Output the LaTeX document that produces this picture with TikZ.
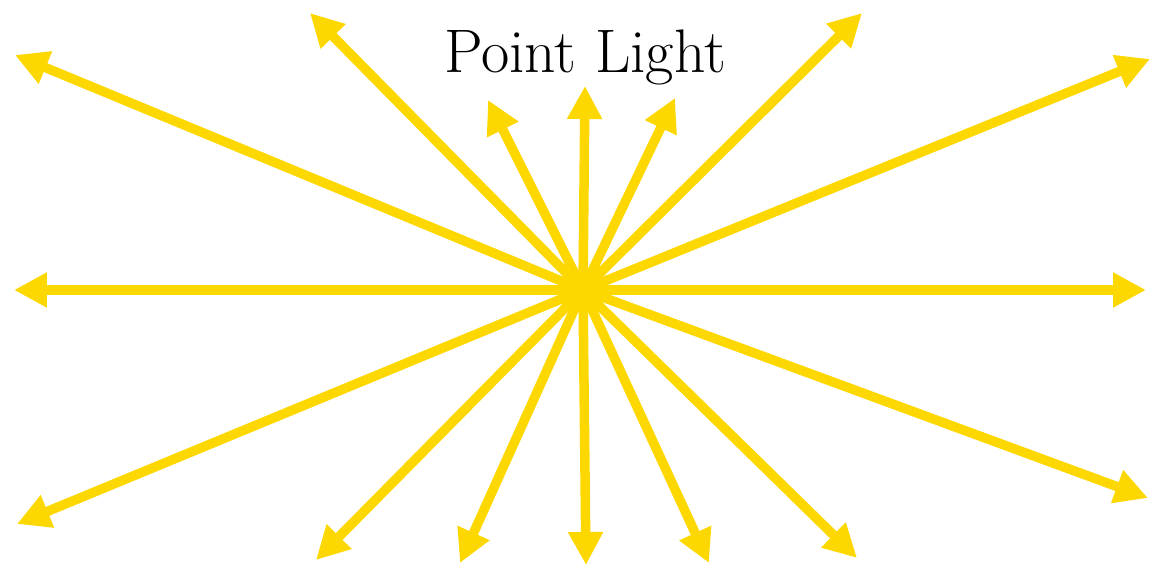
\documentclass[tikz,border=0pt]{standalone}
\usepackage{tikz}
\usetikzlibrary{arrows.meta}
\definecolor{clight}{RGB}{253,216,0}

\begin{document}
\begin{tikzpicture}[x=0.1mm,y=-0.1mm]
    \useasboundingbox (0,0) rectangle (1150,566);
    \tikzset{ray/.style={draw=clight, line width=0.95mm,
             -{Triangle[length=3.3mm,width=3.3mm]}}}
    \coordinate (src) at (583,290);
    % ends of the rays
    \foreach \n/\x/\y in {1/14/290, 2/1146/290, 3/15/55, 4/310/13, 5/488/100,
        6/585/86, 7/675/98, 8/862/13, 9/1150/59, 10/17/524, 11/316/560,
        12/460/563, 13/586/565, 14/709/563, 15/857/558, 16/1148/498}
      {\coordinate (e\n) at (\x,\y);
       \draw[ray] (src) -- (e\n);}
    \node[anchor=base, font=\fontsize{17.5}{21}\selectfont] (title) at (585,73) {Point Light};
  \end{tikzpicture}
\end{document}
